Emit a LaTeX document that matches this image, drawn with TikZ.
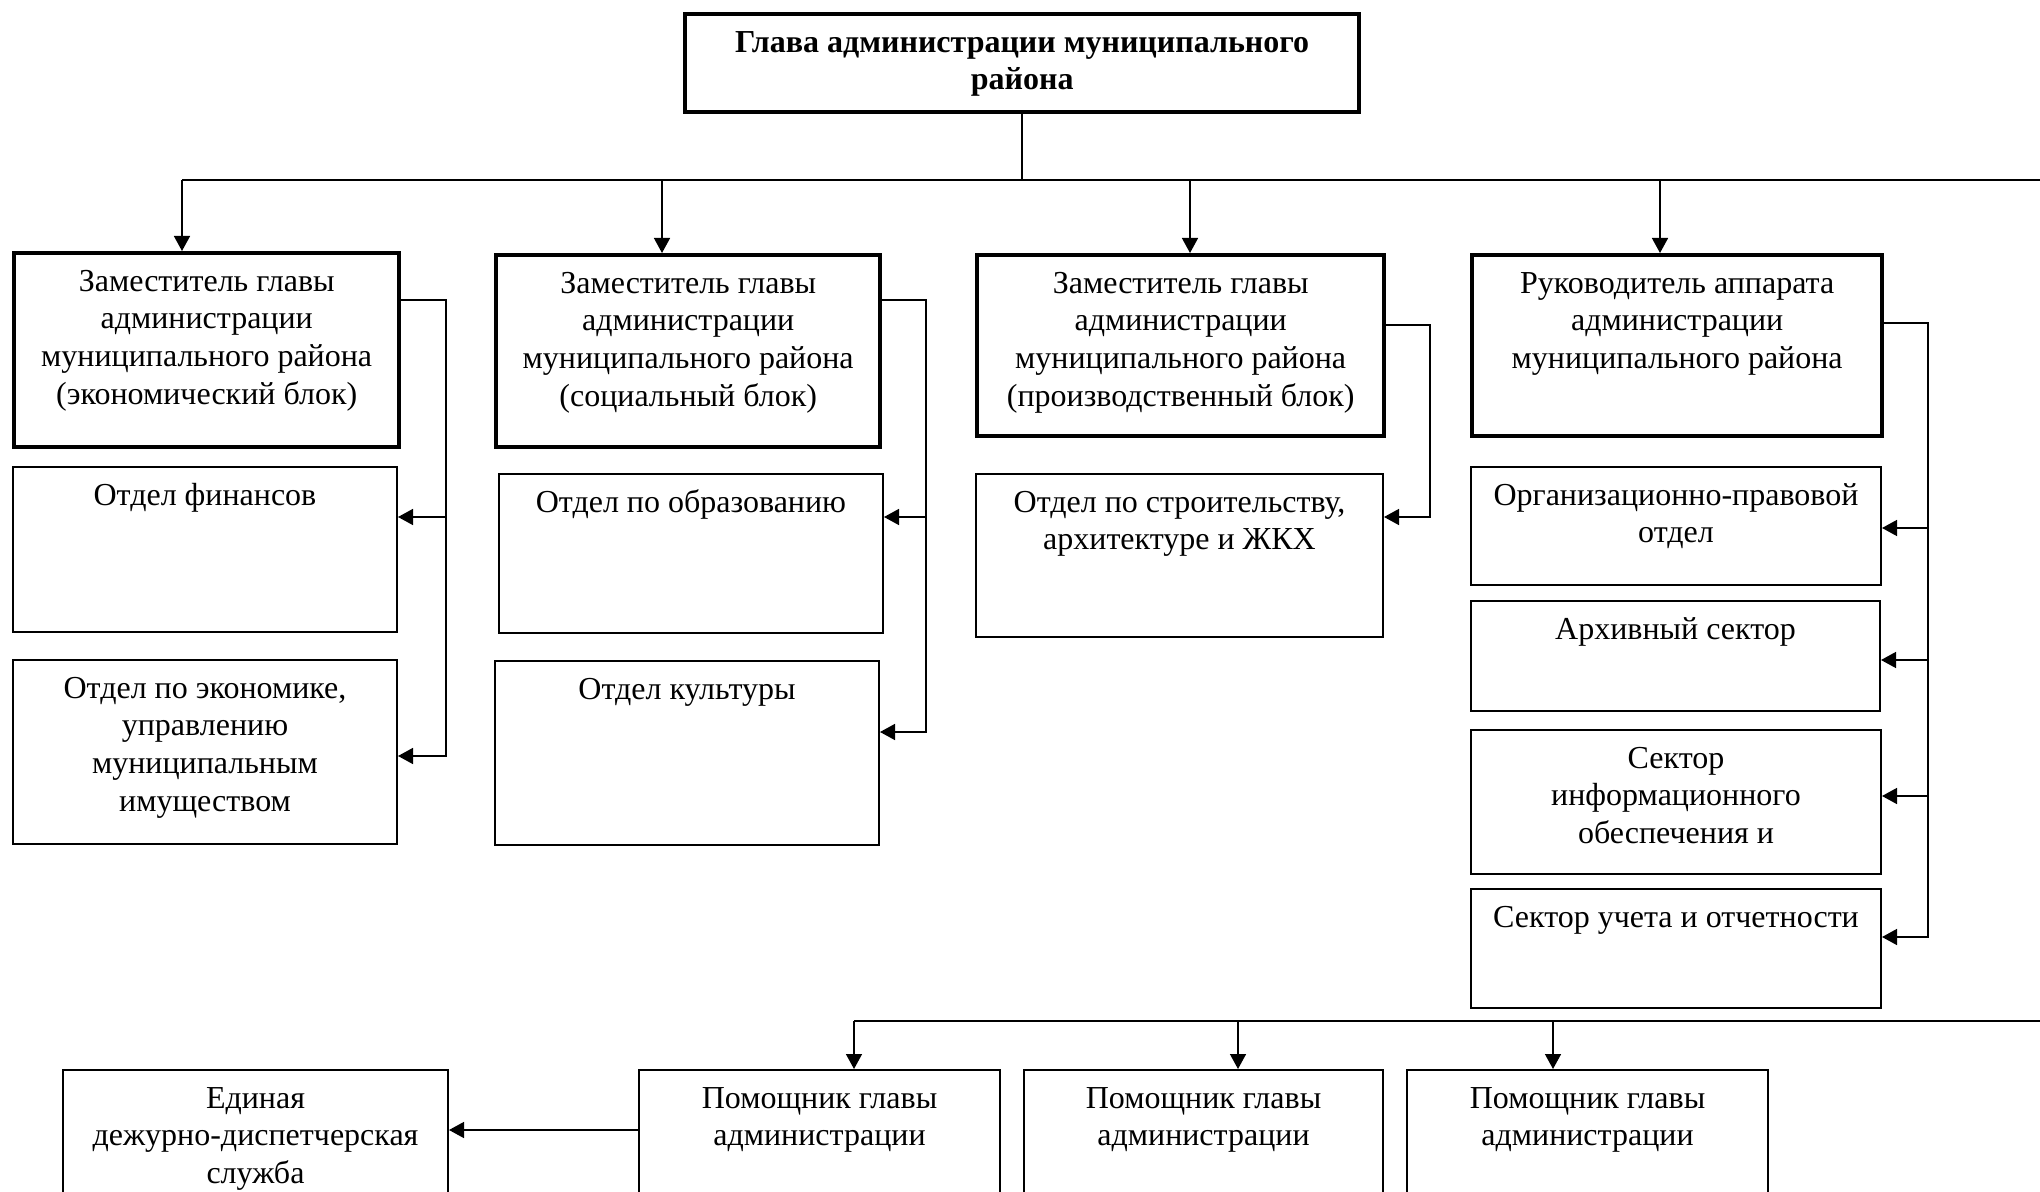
\documentclass[tikz,border=0pt]{standalone}
\usepackage{fontspec}
\setmainfont{Liberation Serif}
\usepackage{tikz}
\usetikzlibrary{arrows.meta}
\tikzset{font=\fontsize{16}{18.9}\selectfont}
\tikzstyle{otd}=[draw,inner sep=0pt,anchor=north west,line width=1pt]
\tikzstyle{ruk}=[otd,line width=2.2pt]
\newcommand{\otdtext}[3]{\parbox[c][#2][t]{#1}{\centering\rule{0pt}{19pt}#3}}

\begin{document}
\begin{tikzpicture}[x=0.5pt,y=-0.5pt,line width=0.75pt,>={Triangle[length=7.5pt,width=8pt]}]
\useasboundingbox (0,0) rectangle (2040,1192);
\clip (0,0) rectangle (2040,1192);
% head
\node[ruk] (head) at (683,12) {\otdtext{337pt}{49pt}{\bfseries Глава администрации муниципального\\района}};
% deputies
\node[ruk] (z1) at (12,251) {\otdtext{192.5pt}{97pt}{Заместитель главы\\администрации\\муниципального района\\(экономический блок)}};
\node[ruk] (z2) at (494,253) {\otdtext{192pt}{96pt}{Заместитель главы\\администрации\\муниципального района\\(социальный блок)}};
\node[ruk] (z3) at (975,253) {\otdtext{203.5pt}{90.5pt}{Заместитель главы\\администрации\\муниципального района\\(производственный блок)}};
\node[ruk] (ra) at (1470,253) {\otdtext{205pt}{90.5pt}{Руководитель аппарата\\администрации\\муниципального района}};
% departments
\node[otd] (fin) at (12,466) {\otdtext{192pt}{82.5pt}{Отдел финансов}};
\node[otd] (econ) at (12,659) {\otdtext{192pt}{92pt}{Отдел по экономике,\\управлению\\муниципальным\\имуществом}};
\node[otd] (edu) at (498,473) {\otdtext{192pt}{79.5pt}{Отдел по образованию}};
\node[otd] (kult) at (494,660) {\otdtext{192pt}{92pt}{Отдел культуры}};
\node[otd] (stroy) at (975,473) {\otdtext{203.5pt}{81.5pt}{Отдел по строительству,\\архитектуре и ЖКХ}};
\node[otd] (org) at (1470,466) {\otdtext{205pt}{59pt}{Организационно-правовой\\отдел}};
\node[otd] (arh) at (1470,600) {\otdtext{204.5pt}{55pt}{Архивный сектор}};
\node[otd] (inf) at (1470,729) {\otdtext{205pt}{72pt}{Сектор\\информационного\\обеспечения и}};
\node[otd] (uch) at (1470,888) {\otdtext{205pt}{59.5pt}{Сектор учета и отчетности}};
% assistants
\node[otd] (edds) at (62,1069) {\otdtext{192.5pt}{90pt}{Единая\\дежурно-диспетчерская\\служба}};
\node[otd] (pom1) at (638,1069) {\otdtext{180.5pt}{90pt}{Помощник главы\\администрации}};
\node[otd] (pom2) at (1023,1069) {\otdtext{179.5pt}{90pt}{Помощник главы\\администрации}};
\node[otd] (pom3) at (1406,1069) {\otdtext{180.5pt}{90pt}{Помощник главы\\администрации}};

% upper bus
\coordinate (t1) at (182,180);
\coordinate (t2) at (662,180);
\coordinate (t3) at (1190,180);
\coordinate (t4) at (1660,180);
\coordinate (tR) at (2040,180);
\draw (head.south) -- (head.south |- t1);
\draw (t1) -- (tR);
\path[->]
(t1) edge (t1 |- z1.north)
(t2) edge (t2 |- z2.north)
(t3) edge (t3 |- z3.north)
(t4) edge (t4 |- ra.north);

% side lines
\coordinate (s1) at (446,300);
\coordinate (s1a) at (446,517);
\coordinate (s1b) at (446,756);
\draw[->] (z1.east |- s1) -- (s1) -- (s1b) -- (econ.east |- s1b);
\draw[->] (s1a) -- (fin.east |- s1a);
\coordinate (s2) at (926,300);
\coordinate (s2a) at (926,517);
\coordinate (s2b) at (926,732);
\draw[->] (z2.east |- s2) -- (s2) -- (s2b) -- (kult.east |- s2b);
\draw[->] (s2a) -- (edu.east |- s2a);
\coordinate (s3) at (1430,325);
\coordinate (s3a) at (1430,517);
\draw[->] (z3.east |- s3) -- (s3) -- (s3a) -- (stroy.east |- s3a);
\coordinate (s4) at (1928,323);
\coordinate (s4a) at (1928,528);
\coordinate (s4b) at (1928,660);
\coordinate (s4c) at (1928,796);
\coordinate (s4d) at (1928,937);
\draw[->] (ra.east |- s4) -- (s4) -- (s4d) -- (uch.east |- s4d);
\path[->]
(s4a) edge (org.east |- s4a)
(s4b) edge (arh.east |- s4b)
(s4c) edge (inf.east |- s4c);

% lower bus
\coordinate (u1) at (854,1021);
\coordinate (u2) at (1238,1021);
\coordinate (u3) at (1553,1021);
\coordinate (uR) at (2040,1021);
\draw (u1) -- (uR);
\path[->]
(u1) edge (u1 |- pom1.north)
(u2) edge (u2 |- pom2.north)
(u3) edge (u3 |- pom3.north);
\coordinate (d1) at (447,1130);
\draw[->] (pom1.west |- d1) -- (edds.east |- d1);
\end{tikzpicture}
\end{document}
